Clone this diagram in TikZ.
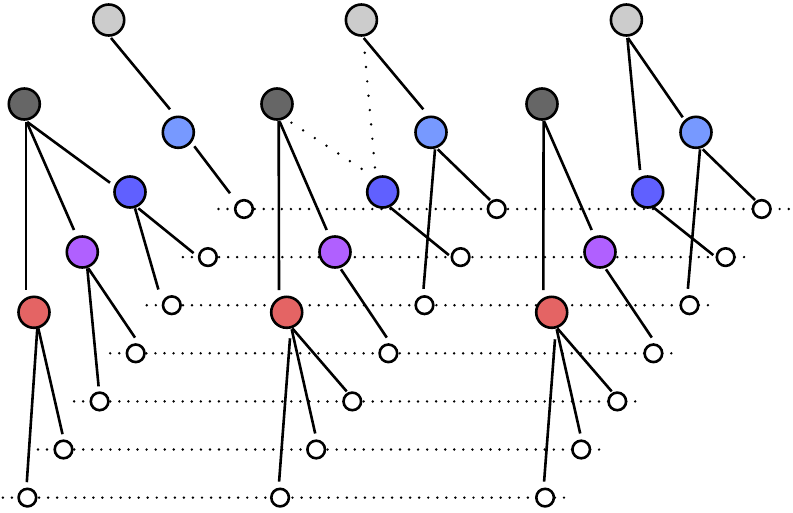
\documentclass[tikz,border=0pt]{standalone}
\usetikzlibrary{calc}
\pgfdeclarelayer{bg}
\pgfsetlayers{bg,main}
\definecolor{cLG}{HTML}{CCCCCC}
\definecolor{cDG}{HTML}{666666}
\definecolor{cLB}{HTML}{7799FF}
\definecolor{cB}{HTML}{6060FF}
\definecolor{cP}{HTML}{B060FF}
\definecolor{cR}{HTML}{E46464}
\newcommand\E[4]{\draw[conn] ($(#1)+#2$) -- ($(#3)+#4$);}
\begin{document}
\begin{tikzpicture}[x=1pt,y=-1pt,
  big/.style={circle,draw=black,line width=2.6pt,minimum size=31pt,inner sep=0pt},
  lf/.style={circle,draw=black,fill=white,line width=2.6pt,minimum size=17.6pt,inner sep=0pt},
  conn/.style={line width=2.6pt},
  dconn/.style={line width=2.7pt,line cap=round,dash pattern=on 0pt off #1},
  dotrow/.style={line width=2.7pt,line cap=round,dash pattern=on 0pt off 9.05pt}]
\useasboundingbox (0,0) rectangle (793,512);
% nodes
\foreach \s/\o in {1/0,2/252.7,3/517.7}{
  \node[big,fill=cLG] (g\s) at (108.7+\o,20) {};
  \node[big,fill=cDG] (d\s) at (24.3+\o,104) {};
  \node[big,fill=cLB] (lb\s) at (178.3+\o,132.3) {};
  \node[big,fill=cB] (b\s) at (130+\o,192) {};
  \node[big,fill=cP] (p\s) at (82.3+\o,252) {};
  \node[big,fill=cR] (r\s) at (34+\o,312.3) {};
  \foreach \r in {0,...,6}{
    \node[lf] (l\s-\r) at ({244-36.1*\r+\o},{209+48.1*\r}) {};
  }
}
\begin{pgfonlayer}{bg}
% dotted rows
\foreach \r/\a/\b in {0/-25.5/28.3,1/-25/23.3,2/-25/22.2,3/-25.5/21.6,4/-25.5/21,5/-25.5/20.5,6/-24.5/21.6}{
  \draw[dotrow] ($(l1-\r)+(\a,0)$) -- ($(l3-\r)+(\b,0)$);
}
% copy 1
\E{g1}{(2.3,18)}{lb1}{(-8.3,-23)}
\E{d1}{(3,18)}{b1}{(-20,-9.3)}
\E{d1}{(2.4,18)}{p1}{(-8.3,-22)}
\E{d1}{(1.7,18)}{r1}{(-8,-22.3)}
\E{lb1}{(16,14)}{l1-0}{(-14,-15.7)}
\E{b1}{(8.3,16.3)}{l1-1}{(-14.3,-4)}
\E{b1}{(5,16.3)}{l1-2}{(-13.4,-15.7)}
\E{p1}{(6,16.3)}{l1-3}{(-0.7,-15.7)}
\E{p1}{(5,16.3)}{l1-4}{(-1,-15)}
\E{r1}{(4.3,16)}{l1-5}{(-1,-15.3)}
\E{r1}{(3.3,16)}{l1-6}{(-0.6,-15.4)}
% copy 2
\E{g2}{(2.3,18)}{lb2}{(-7.7,-23)}
\draw[dconn=14.4pt] ($(g2)+(3.3,32.7)$) -- ($(b2)+(-7.7,-23.7)$);
\draw[dconn=14pt] ($(d2)+(14.4,18.7)$) -- ($(b2)+(-20.4,-22.7)$);
\E{d2}{(2.7,17.7)}{p2}{(-8.3,-22)}
\E{d2}{(1.7,17)}{r2}{(-7.7,-22.3)}
\E{lb2}{(6.7,17)}{l2-0}{(-6.7,-9)}
\E{lb2}{(4,17)}{l2-2}{(-1,-16.4)}
\E{b2}{(7.3,15.3)}{l2-1}{(-11.7,-2)}
\E{p2}{(6,17.3)}{l2-3}{(-1.6,-15.7)}
\E{r2}{(5.6,16)}{l2-4}{(-5.6,-10)}
\E{r2}{(5,17)}{l2-5}{(-1,-16)}
\E{r2}{(3.3,26)}{l2-6}{(-1,-16)}
% copy 3
\E{g3}{(1.6,18)}{lb3}{(-13.3,-15)}
\E{g3}{(1,18)}{b3}{(-7.7,-22)}
\E{d3}{(2.3,17.7)}{p3}{(-8.3,-22)}
\E{d3}{(1.6,17)}{r3}{(-8.4,-22.3)}
\E{lb3}{(6.7,17)}{l3-0}{(-6.7,-9)}
\E{lb3}{(4,17)}{l3-2}{(-1.6,-16.4)}
\E{b3}{(5.6,15.3)}{l3-1}{(-12.3,-2)}
\E{p3}{(6,17.3)}{l3-3}{(-1.6,-15.7)}
\E{r3}{(5.6,16)}{l3-4}{(-5.6,-10)}
\E{r3}{(5,17)}{l3-5}{(-1,-16)}
\E{r3}{(3.3,27)}{l3-6}{(-1,-16)}
\end{pgfonlayer}
\end{tikzpicture}
\end{document}
